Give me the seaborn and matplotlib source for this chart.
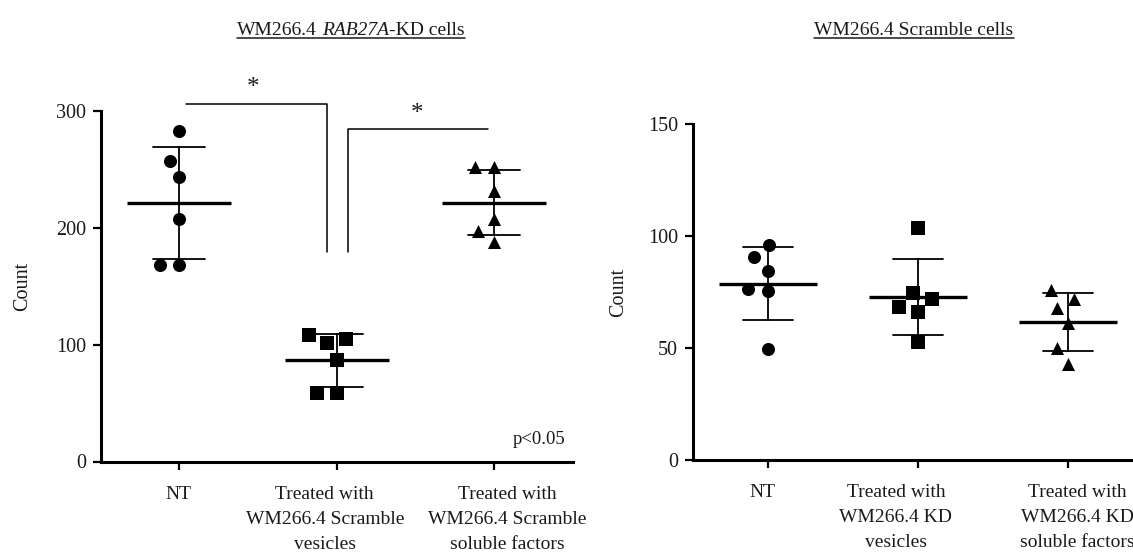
import numpy as np
import pandas as pd
import matplotlib
matplotlib.use("Agg")
import matplotlib.pyplot as plt
from matplotlib.lines import Line2D
from matplotlib.transforms import ScaledTranslation
import seaborn as sns

# Counts per condition, six replicates each
kd_groups = ["NT",
             "Treated with\nWM266.4 Scramble\nvesicles",
             "Treated with\nWM266.4 Scramble\nsoluble factors"]
kd_nt = [283, 257, 243, 207, 168, 168]
kd_vesicles = [108, 105, 101, 87, 59, 59]
kd_soluble = [252, 252, 231, 207, 197, 188]
kd_yticks = [0, 100, 200, 300]

scr_groups = ["NT",
              "Treated with\nWM266.4 KD\nvesicles",
              "Treated with\nWM266.4 KD\nsoluble factors"]
scr_nt = [96, 90.5, 84.5, 76.5, 75.5, 49.5]
scr_vesicles = [103.5, 74.5, 72, 68.5, 66, 52.5]
scr_soluble = [76, 72, 68, 61, 50, 43]
scr_yticks = [0, 50, 100, 150]

# title pieces: (text, style)
kd_title = [("WM266.4 ", "normal"), ("RAB27A", "italic"), ("-KD cells", "normal")]
scr_title = [("WM266.4 Scramble cells", "normal")]

group_markers = ["o", "s", "^"]
MARKER_PT = 9.4      # drawn marker diameter
SPREAD_PT = 13.5     # spacing used when laying out the swarm

sns.set_theme(style="ticks")
plt.rcParams["font.family"] = ["Liberation Serif", "DejaVu Serif"]

TXT = "#1a1a1a"
W, H, DPI = 1133, 556, 100
fig = plt.figure(figsize=(W / DPI, H / DPI), dpi=DPI)
fig.patch.set_facecolor("white")

ax_kd = fig.add_axes([100.5 / W, (H - 461.5) / H, 472.5 / W, 350.8 / H])
ax_scr = fig.add_axes([692.7 / W, (H - 460) / H, 450.3 / W, 336 / H])


def draw_panel(ax, groups, series, yticks, mean_len, ylabel_pad, label_shift_px):
    df = pd.DataFrame({
        "group": np.repeat(groups, [len(s) for s in series]),
        "count": np.concatenate([np.asarray(s, float) for s in series]),
    })
    # individual replicates
    for g, m in zip(groups, group_markers):
        sns.swarmplot(data=df[df["group"] == g], x="group", y="count",
                      order=groups, marker=m, color="black", size=SPREAD_PT,
                      linewidth=0, ax=ax, zorder=2)
    # mean line with SD whiskers
    sns.pointplot(data=df, x="group", y="count", order=groups,
                  errorbar="sd", capsize=0.33, color="black",
                  markers="_", linestyle="none", markersize=mean_len,
                  markeredgewidth=2.4, err_kws={"linewidth": 1.3},
                  ax=ax, zorder=3)
    ax.set_xlim(-0.5, 2.5)
    ax.set_ylim(yticks[0], yticks[-1])
    ax.set_yticks(yticks)
    ax.set_xlabel("")
    ax.set_ylabel("Count", fontsize=14.5, labelpad=ylabel_pad, color=TXT)
    sns.despine(ax=ax)
    for side in ("left", "bottom"):
        ax.spines[side].set_linewidth(2.2)
        ax.spines[side].set_color("black")
    ax.tick_params(axis="both", width=1.6, length=5.5, colors="black",
                   labelcolor=TXT)
    ax.tick_params(axis="x", pad=12, labelsize=14)
    ax.tick_params(axis="y", pad=5, labelsize=14.5)
    for lab, dx in zip(ax.get_xticklabels(), label_shift_px):
        lab.set_linespacing(1.62)
        lab.set_transform(lab.get_transform()
                          + ScaledTranslation(dx / DPI, 0, fig.dpi_scale_trans))
    ax.set_facecolor("white")


draw_panel(ax_kd, kd_groups, [kd_nt, kd_vesicles, kd_soluble], kd_yticks,
           75, 17, [-1, -12, 13])
draw_panel(ax_scr, scr_groups, [scr_nt, scr_vesicles, scr_soluble], scr_yticks,
           71, 14, [-5, -22, 9])

# significance brackets on the knockdown panel
bk = dict(color="black", linewidth=1.1, clip_on=False, zorder=4)
ax_kd.plot([0.04, 0.94, 0.94], [306, 306, 179], **bk)
ax_kd.plot([1.07, 1.07, 1.96], [179, 284, 284], **bk)
ax_kd.text(0.47, 314, "*", ha="center", va="baseline", fontsize=18,
           color=TXT, clip_on=False)
ax_kd.text(1.51, 292, "*", ha="center", va="baseline", fontsize=18,
           color=TXT, clip_on=False)
ax_kd.text(2.45, 15, "p<0.05", ha="right", va="baseline", fontsize=13.5,
           color=TXT)

# lay out the swarms, then freeze the positions and shrink the markers
fig.canvas.draw()
for ax in (ax_kd, ax_scr):
    for coll in ax.collections:
        if "draw" in coll.__dict__:
            del coll.draw
        coll.set_sizes([MARKER_PT ** 2])

# underlined panel titles, assembled from upright and italic runs
renderer = fig.canvas.get_renderer()
TITLE_BASE = (H - 35) / H
UNDER_Y = (H - 38) / H


def text_width(s, style):
    probe = fig.text(0, 0, s.replace(" ", "\u00a0"), fontsize=14, fontstyle=style)
    w = probe.get_window_extent(renderer).width
    probe.remove()
    return w


def place_title(center_px, pieces):
    space_w = text_width("a a", "normal") - text_width("aa", "normal")
    widths = []
    for s, style in pieces:
        core = s.strip(" ")
        w = text_width(core, style)
        lead = (len(s) - len(s.lstrip(" "))) * space_w
        trail = (len(s) - len(s.rstrip(" "))) * space_w
        widths.append((core, style, lead, w, trail))
    total = sum(l + w + t for _, _, l, w, t in widths)
    x = center_px - total / 2
    x_start = x
    for core, style, lead, w, trail in widths:
        x += lead
        fig.text(x / W, TITLE_BASE, core, ha="left", va="baseline",
                 fontsize=14, fontstyle=style, color=TXT)
        x += w + trail
    fig.add_artist(Line2D([x_start / W, x / W], [UNDER_Y, UNDER_Y],
                          transform=fig.transFigure, color=TXT, linewidth=1.1))


place_title(351, kd_title)
place_title(914, scr_title)

fig.savefig("out.png", dpi=DPI, facecolor="white")
